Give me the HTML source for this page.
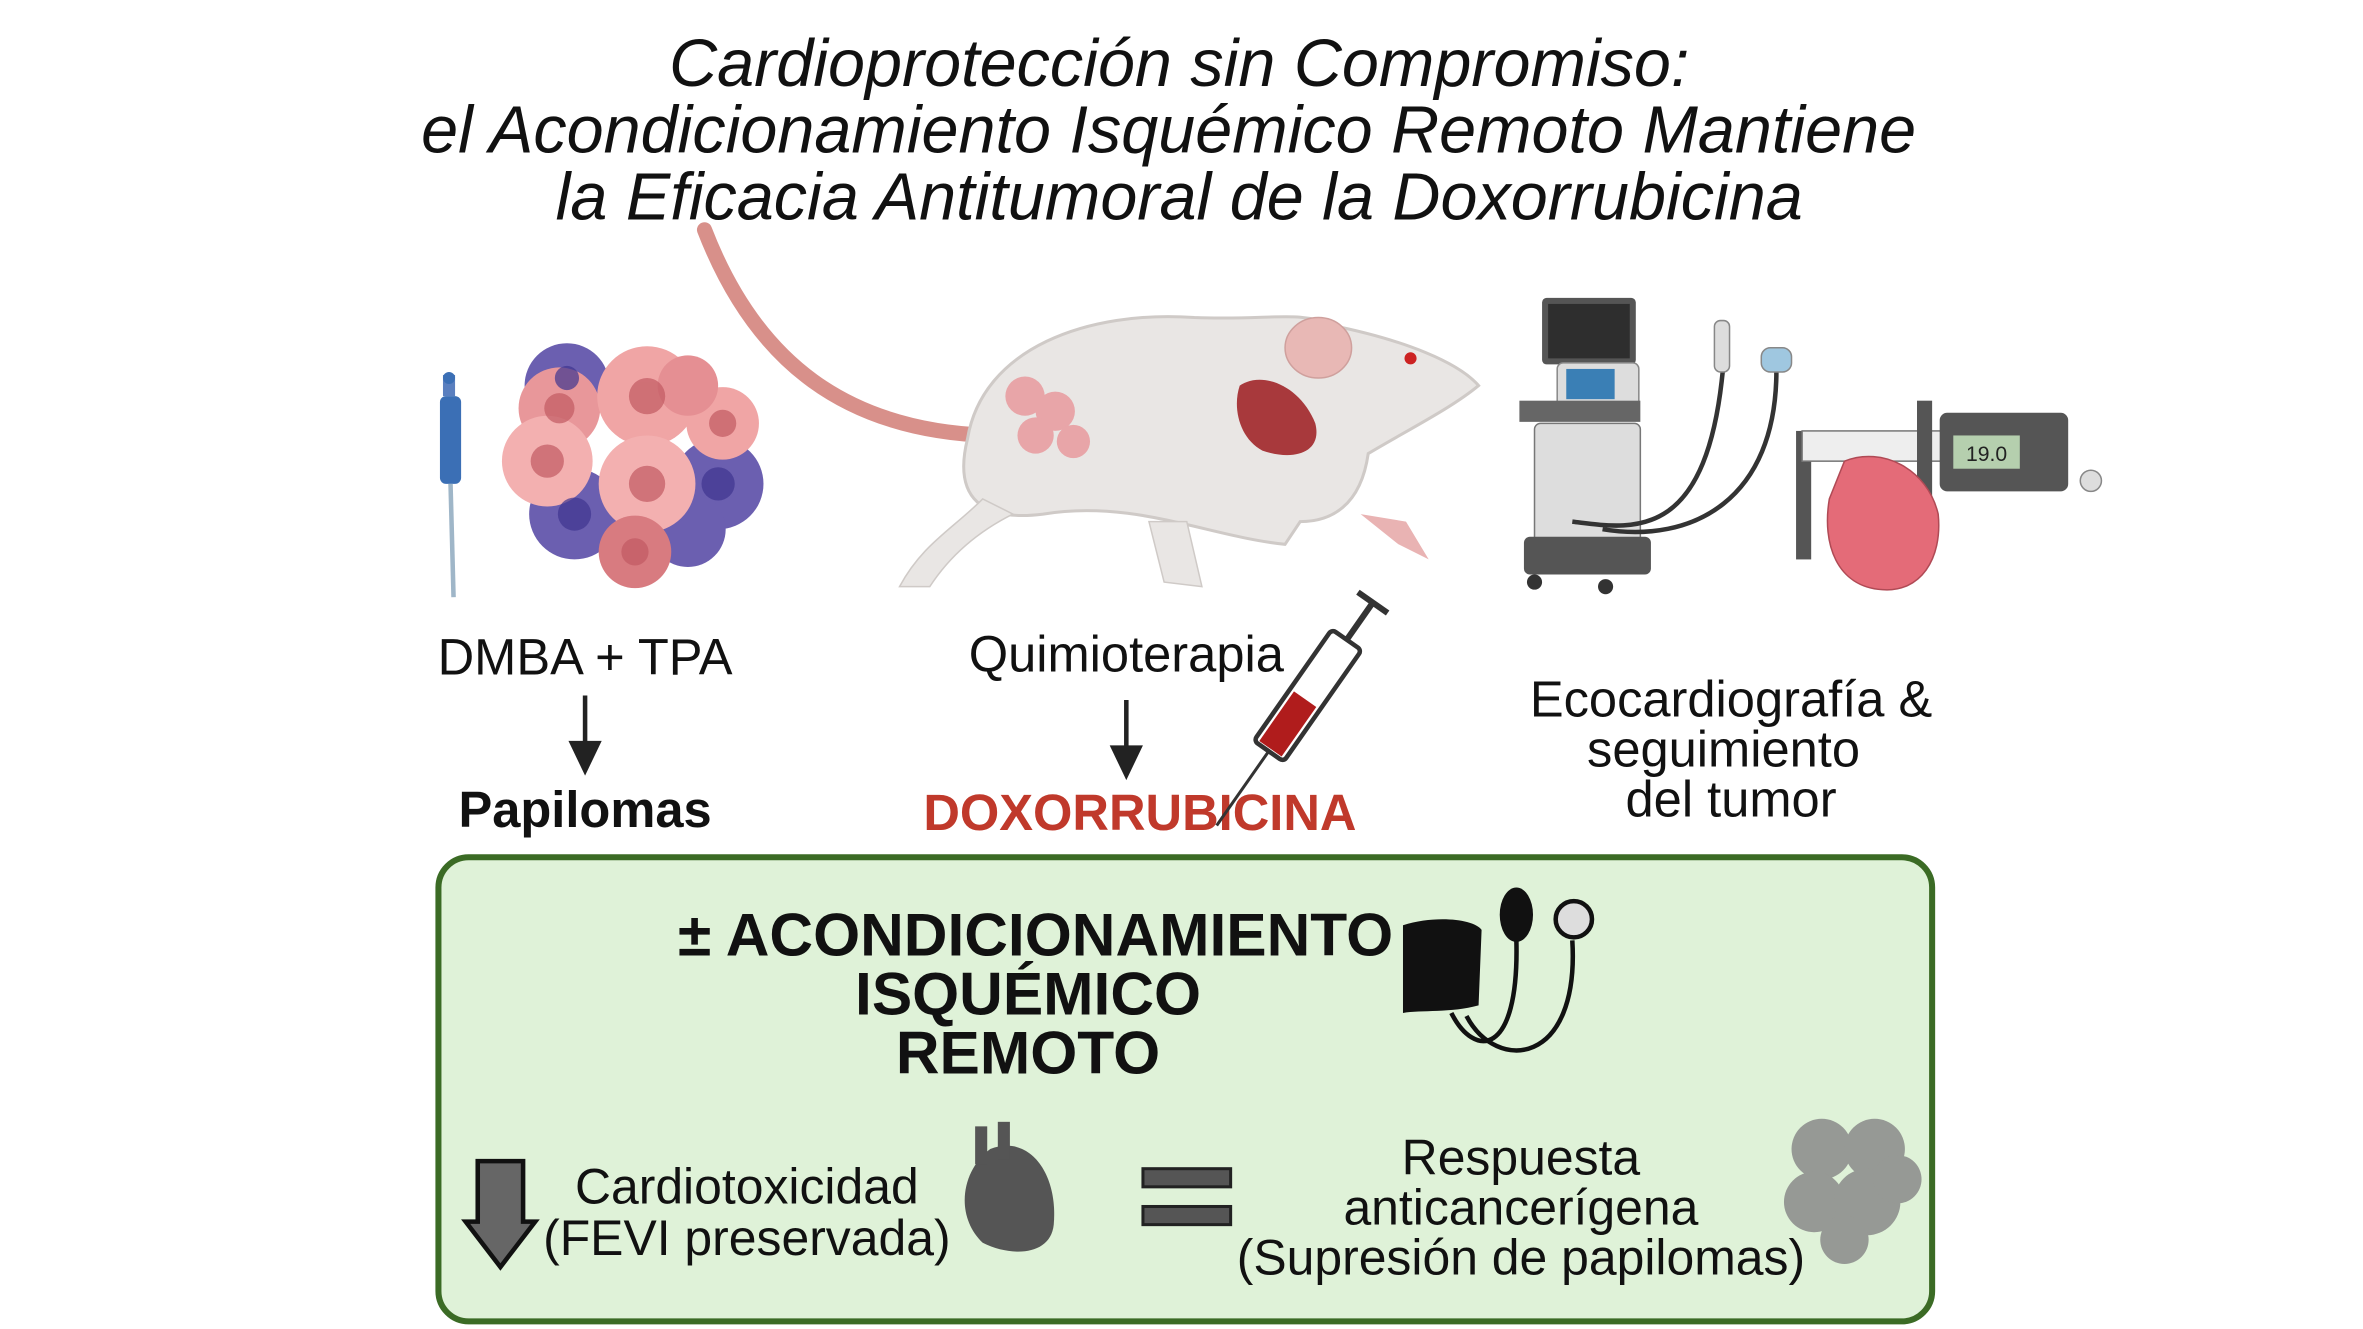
<!DOCTYPE html>
<html><head><meta charset="utf-8"><style>
html,body{margin:0;padding:0;background:#fff;}
svg{display:block;}
text{font-family:"Liberation Sans",Arial,sans-serif;}
</style></head><body>
<svg width="2363" height="1329" viewBox="0 0 1563 879" xmlns="http://www.w3.org/2000/svg">
<rect width="1563" height="879" fill="#fff"/>
<g font-style="italic" font-size="44" text-anchor="middle" fill="#111" textLength="">
<text x="780" y="57">Cardioprotección sin Compromiso:</text>
<text x="773" y="101">el Acondicionamiento Isquémico Remoto Mantiene</text>
<text x="780" y="145">la Eficacia Antitumoral de la Doxorrubicina</text>
</g>
<!-- Tumor cluster -->
<g>
<circle cx="375" cy="255" r="28" fill="#6b5fb0"/>
<circle cx="475" cy="320" r="30" fill="#6b5fb0"/>
<circle cx="380" cy="340" r="30" fill="#6b5fb0"/>
<circle cx="455" cy="350" r="25" fill="#6b5fb0"/>
<circle cx="370" cy="270" r="27" fill="#e8979a"/>
<circle cx="428" cy="262" r="33" fill="#f0a5a5"/>
<circle cx="478" cy="280" r="24" fill="#f0a5a5"/>
<circle cx="362" cy="305" r="30" fill="#f3b0b0"/>
<circle cx="428" cy="320" r="32" fill="#f3b0b0"/>
<circle cx="420" cy="365" r="24" fill="#d87b80"/>
<circle cx="455" cy="255" r="20" fill="#e58f93"/>
<g fill="#c25a62" opacity="0.7">
<circle cx="370" cy="270" r="10"/><circle cx="428" cy="262" r="12"/><circle cx="478" cy="280" r="9"/>
<circle cx="362" cy="305" r="11"/><circle cx="428" cy="320" r="12"/><circle cx="420" cy="365" r="9"/>
</g>
<g fill="#3f3590" opacity="0.7"><circle cx="380" cy="340" r="11"/><circle cx="475" cy="320" r="11"/><circle cx="375" cy="250" r="8"/></g>
</g>
<g>
<rect x="291" y="262" width="14" height="58" rx="4" fill="#3b6fb5"/>
<rect x="293" y="248" width="8" height="14" fill="#5a7fbf"/>
<circle cx="297" cy="250" r="4" fill="#3b6fb5"/>
<line x1="298" y1="320" x2="300" y2="395" stroke="#9fb6c8" stroke-width="3"/>
</g>
<path d="M466 152 C 500 240, 560 285, 655 288" stroke="#d8908a" stroke-width="10" fill="none" stroke-linecap="round"/>
<path d="M640 290 C 650 230, 720 205, 790 210 C 840 212, 860 205, 880 215 C 930 225, 965 240, 978 255 C 960 270, 930 285, 905 300 C 900 335, 880 345, 860 345 L 850 360 C 800 355, 750 330, 690 340 C 650 345, 630 330, 640 290 Z" fill="#e9e6e4" stroke="#cfcac7" stroke-width="2"/>
<path d="M650 330 C 630 350, 610 360, 595 388 L 615 388 C 630 365, 650 350, 670 340 Z" fill="#e9e6e4" stroke="#cfcac7"/>
<path d="M760 345 L 770 385 L 795 388 L 785 345 Z" fill="#e9e6e4" stroke="#cfcac7"/>
<path d="M900 340 L 925 360 L 945 370 L 930 345 Z" fill="#e9b3b3"/>
<ellipse cx="872" cy="230" rx="22" ry="20" fill="#e8b8b5" stroke="#cfa09d"/>
<circle cx="933" cy="237" r="4" fill="#c22"/>
<path d="M820 255 C 835 245, 860 255, 870 280 C 875 300, 855 305, 835 298 C 820 290, 815 270, 820 255 Z" fill="#a8393c"/>
<g fill="#e8a5a8"><circle cx="678" cy="262" r="13"/><circle cx="698" cy="272" r="13"/><circle cx="685" cy="288" r="12"/><circle cx="710" cy="292" r="11"/></g>
<g>
<rect x="1020" y="197" width="62" height="44" rx="3" fill="#555"/>
<rect x="1024" y="201" width="54" height="36" fill="#2e2e2e"/>
<rect x="1030" y="240" width="54" height="30" rx="4" fill="#ddd" stroke="#888"/>
<rect x="1036" y="244" width="32" height="20" fill="#3a7fb5"/>
<rect x="1005" y="265" width="80" height="14" fill="#666"/>
<rect x="1015" y="280" width="70" height="90" rx="4" fill="#ddd" stroke="#777"/>
<rect x="1008" y="355" width="84" height="25" rx="4" fill="#555"/>
<circle cx="1015" cy="385" r="5" fill="#333"/><circle cx="1062" cy="388" r="5" fill="#333"/>
<path d="M1040 345 C 1080 350, 1130 360, 1140 240" stroke="#333" stroke-width="3" fill="none"/>
<path d="M1060 350 C 1120 360, 1175 330, 1175 245" stroke="#333" stroke-width="3" fill="none"/>
<rect x="1134" y="212" width="10" height="34" rx="4" fill="#ddd" stroke="#888"/>
<rect x="1165" y="230" width="20" height="16" rx="6" fill="#9fc7e0" stroke="#888"/>
</g>
<g>
<rect x="1188" y="285" width="10" height="85" fill="#555"/>
<rect x="1192" y="285" width="160" height="20" fill="#eee" stroke="#777"/>
<rect x="1283" y="273" width="85" height="52" rx="5" fill="#555"/>
<rect x="1292" y="288" width="44" height="22" fill="#b5cfae"/>
<text x="1314" y="305" font-size="14" text-anchor="middle" fill="#222">19.0</text>
<rect x="1268" y="265" width="10" height="105" fill="#555"/>
<circle cx="1383" cy="318" r="7" fill="#ddd" stroke="#888"/>
<path d="M1220 305 C 1245 295, 1275 310, 1282 340 C 1285 370, 1270 392, 1245 390 C 1215 388, 1205 360, 1210 330 Z" fill="#e46b78" stroke="#b04a55"/>
</g>
<g font-size="33.5" text-anchor="middle" fill="#111">
<text x="387" y="446">DMBA + TPA</text>
<text x="745" y="444">Quimioterapia</text>
<text x="1145" y="474">Ecocardiografía &amp;</text>
<text x="1140" y="507">seguimiento</text>
<text x="1145" y="540">del tumor</text>
<text x="387" y="547" font-weight="bold">Papilomas</text>
<text x="754" y="549" font-weight="bold" fill="#c0392b">DOXORRUBICINA</text>
</g>
<g stroke="#222" stroke-width="3"><line x1="387" y1="460" x2="387" y2="495"/><line x1="745" y1="463" x2="745" y2="498"/></g>
<g fill="#222"><path d="M376 490 L398 490 L387 513 Z"/><path d="M734 493 L756 493 L745 516 Z"/></g>
<g transform="rotate(-55 865 460)">
<rect x="820" y="448" width="90" height="24" rx="3" fill="#fff" stroke="#333" stroke-width="3"/>
<rect x="822" y="451" width="40" height="18" fill="#b01c1c"/>
<line x1="910" y1="460" x2="940" y2="460" stroke="#333" stroke-width="4"/>
<line x1="940" y1="448" x2="940" y2="472" stroke="#333" stroke-width="4"/>
<line x1="760" y1="460" x2="820" y2="460" stroke="#333" stroke-width="2"/>
</g>
<rect x="290" y="567" width="988" height="307" rx="20" fill="#dff2d8" stroke="#3b6b25" stroke-width="4"/>
<g font-size="40" font-weight="bold" text-anchor="middle" fill="#111">
<text x="685" y="632">± ACONDICIONAMIENTO</text>
<text x="680" y="671">ISQUÉMICO</text>
<text x="680" y="710">REMOTO</text>
</g>
<path d="M928 612 C 950 605, 975 608, 980 615 L 978 665 C 960 670, 940 668, 928 670 Z" fill="#111"/>
<ellipse cx="1003" cy="605" rx="11" ry="18" fill="#111"/>
<circle cx="1041" cy="608" r="12" fill="#ddd" stroke="#111" stroke-width="3"/>
<path d="M960 670 C 975 700, 1005 700, 1003 622" stroke="#111" stroke-width="3" fill="none"/>
<path d="M970 672 C 990 710, 1045 705, 1040 622" stroke="#111" stroke-width="3" fill="none"/>
<path d="M316 768 L346 768 L346 808 L354 808 L331 838 L308 808 L316 808 Z" fill="#666" stroke="#111" stroke-width="3"/>
<g font-size="33" text-anchor="middle" fill="#111">
<text x="494" y="796">Cardiotoxicidad</text>
<text x="494" y="830">(FEVI preservada)</text>
<text x="1006" y="777">Respuesta</text>
<text x="1006" y="810">anticancerígena</text>
<text x="1006" y="843">(Supresión de papilomas)</text>
</g>
<path d="M655 760 C 680 750, 700 775, 697 810 C 695 830, 670 832, 650 822 C 632 805, 635 775, 655 760 Z" fill="#555"/>
<rect x="645" y="745" width="8" height="25" fill="#555"/><rect x="660" y="742" width="8" height="25" fill="#555"/>
<rect x="756" y="773" width="58" height="12" fill="#555" stroke="#222" stroke-width="2"/>
<rect x="756" y="798" width="58" height="12" fill="#555" stroke="#222" stroke-width="2"/>
<g fill="#8a8a8a" opacity="0.85">
<circle cx="1205" cy="760" r="20"/><circle cx="1240" cy="760" r="20"/><circle cx="1200" cy="795" r="20"/>
<circle cx="1235" cy="795" r="22"/><circle cx="1255" cy="780" r="16"/><circle cx="1220" cy="820" r="16"/>
</g>
</svg>
</body></html>
